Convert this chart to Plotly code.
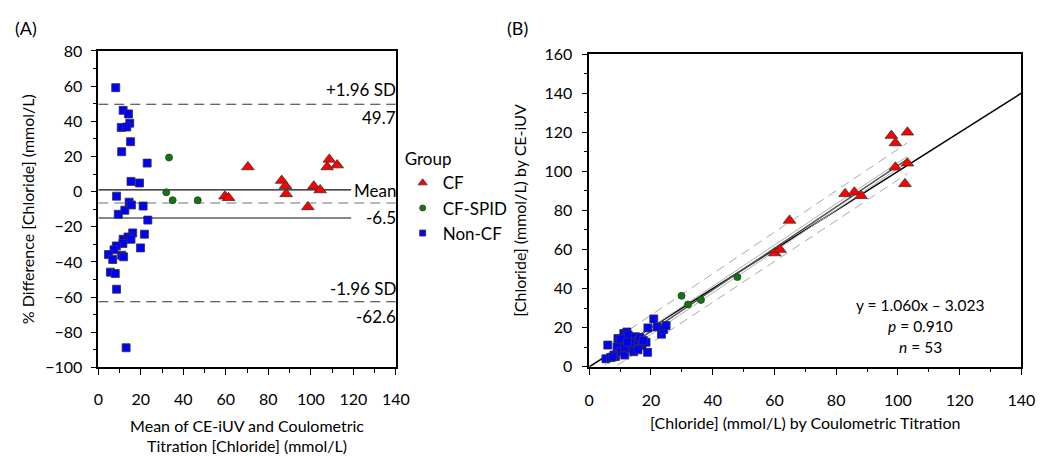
import plotly.graph_objects as go

# ---------------- Panel A: Bland-Altman (mean, % difference) ----------------
ba_cf_mean = [59.6, 61.3, 70.4, 86.3, 88.1, 88.4, 98.6, 101.4, 104.4, 107.7, 108.7, 112.4]
ba_cf_diff = [-2.6, -3.5, 14.0, 6.3, 3.3, -1.3, -8.7, 3.1, 0.9, 14.0, 18.3, 15.1]

ba_spid_mean = [33.3, 32.0, 35.0, 46.8]
ba_spid_diff = [19.4, -0.4, -4.9, -4.9]

ba_non_mean = [8.2, 11.7, 14.2, 14.8, 10.8, 13.4, 15.2, 11.0, 23.0, 15.4, 19.4, 8.6,
               14.5, 9.4, 12.5, 15.6, 21.1, 23.3, 16.2, 21.7, 11.7, 14.0, 15.4, 11.6,
               8.5, 7.4, 4.8, 6.8, 11.0, 11.9, 19.9, 5.7, 8.0, 8.6, 13.1]
ba_non_diff = [59.1, 46.2, 44.2, 38.9, 36.5, 36.7, 28.4, 22.7, 16.2, 5.8, 4.9, -2.6,
               -6.0, -12.9, -10.6, -7.6, -8.2, -16.2, -23.5, -24.2, -27.1, -25.8, -27.1, -29.5,
               -30.9, -33.1, -35.8, -38.6, -36.2, -37.1, -32.0, -45.8, -46.6, -55.5, -88.8]

ba_mean_bias = -6.5
ba_upper_loa = 49.7
ba_lower_loa = -62.6
ba_ci_upper = 1.0
ba_ci_lower = -15.0

# ---------------- Panel B: CE-iUV vs coulometric titration ----------------
cf_ct = [97.9, 103.1, 99.2, 99.2, 103.1, 102.3, 82.9, 85.9, 88.1, 64.9, 60.1, 61.8]
cf_ce = [118.3, 120.0, 114.5, 102.1, 104.2, 93.6, 88.5, 89.3, 87.5, 74.9, 58.2, 60.0]

spid_ct = [29.9, 32.0, 36.2, 48.0]
spid_ce = [36.3, 31.9, 34.2, 45.9]

non_ct = [6.0, 5.4, 6.9, 8.5, 9.3, 9.4, 9.0, 10.1, 11.2, 12.2, 12.6, 11.5, 13.3, 13.1,
          15.0, 14.9, 15.8, 17.1, 18.4, 19.0, 18.9, 20.9, 22.0, 23.4, 24.1, 24.9, 14.4,
          16.4, 11.4, 10.3, 17.5, 12.4, 15.8, 8.0, 7.5]
non_ce = [11.1, 4.1, 4.7, 5.2, 14.5, 12.6, 10.1, 7.7, 17.0, 17.8, 16.2, 6.0, 11.8, 9.3,
          15.4, 12.6, 13.4, 10.9, 12.6, 19.9, 7.4, 24.5, 20.4, 16.7, 19.1, 21.1, 7.7,
          15.0, 10.1, 14.2, 13.4, 12.5, 8.7, 6.0, 5.0]

fit_slope = 1.060
fit_intercept = -3.023
fit_x = [5, 103]
identity_x = [0, 140]
ci_up_y = [4.3, 107.6]
ci_lo_y = [0.7, 104.6]
pi_up_y = [10.5, 114.5]
pi_lo_y = [-3.5, 98.8]

group_names = ["CF", "CF-SPID", "Non-CF"]

FONT = "Lato"
RED, GREEN, BLUE = "#ff0000", "#0a7a0a", "#0000ff"
OUT = "#333333"

fig = go.Figure()

def mk(sym, col, size):
    return dict(symbol=sym, color=col, size=size, line=dict(color=OUT, width=0.8))

# legend-only entries (small symbols as in the reference)
for nm, sym, col, sz in zip(group_names, ["triangle-up", "circle", "square"],
                            [RED, GREEN, BLUE], [8, 6, 6]):
    fig.add_trace(go.Scatter(x=[None], y=[None], mode="markers", name=nm,
                             marker=mk(sym, col, sz), xaxis="x", yaxis="y"))

# Panel A traces
fig.add_trace(go.Scatter(x=ba_cf_mean, y=ba_cf_diff, mode="markers", showlegend=False,
                         marker=mk("triangle-up", RED, 11), xaxis="x", yaxis="y"))
fig.add_trace(go.Scatter(x=ba_spid_mean, y=ba_spid_diff, mode="markers", showlegend=False,
                         marker=mk("circle", GREEN, 7), xaxis="x", yaxis="y"))
fig.add_trace(go.Scatter(x=ba_non_mean, y=ba_non_diff, mode="markers", showlegend=False,
                         marker=mk("square", BLUE, 8), xaxis="x", yaxis="y"))

# horizontal lines panel A
for yv, dash, col, x1 in [(ba_upper_loa, "dash", "#333333", 140),
                          (ba_lower_loa, "dash", "#333333", 140),
                          (ba_mean_bias, "dash", "#a0a0a0", 140),
                          (ba_ci_upper, "solid", "#111111", 119),
                          (ba_ci_lower, "solid", "#111111", 119)]:
    fig.add_shape(type="line", xref="x", yref="y", x0=0, x1=x1, y0=yv, y1=yv,
                  line=dict(color=col, width=1.5 if col == "#a0a0a0" else 1.1,
                            dash="10px,6px" if dash == "dash" else "solid"), layer="below")

# Panel B traces
fig.add_trace(go.Scatter(x=identity_x, y=identity_x, mode="lines", showlegend=False,
                         line=dict(color="black", width=1.5), xaxis="x2", yaxis="y2"))
fig.add_trace(go.Scatter(x=fit_x, y=[fit_slope * v + fit_intercept for v in fit_x], mode="lines",
                         showlegend=False, line=dict(color="#555555", width=1.5), xaxis="x2", yaxis="y2"))
for yy in (ci_up_y, ci_lo_y):
    fig.add_trace(go.Scatter(x=fit_x, y=yy, mode="lines", showlegend=False,
                             line=dict(color="#b0b0b0", width=1), xaxis="x2", yaxis="y2"))
for yy in (pi_up_y, pi_lo_y):
    fig.add_trace(go.Scatter(x=fit_x, y=yy, mode="lines", showlegend=False,
                             line=dict(color="#a8a8a8", width=1, dash="9px,6px"), xaxis="x2", yaxis="y2"))

fig.add_trace(go.Scatter(x=cf_ct, y=cf_ce, mode="markers", showlegend=False,
                         marker=mk("triangle-up", RED, 11), xaxis="x2", yaxis="y2"))
fig.add_trace(go.Scatter(x=spid_ct, y=spid_ce, mode="markers", showlegend=False,
                         marker=mk("circle", GREEN, 7), xaxis="x2", yaxis="y2"))
fig.add_trace(go.Scatter(x=non_ct, y=non_ce, mode="markers", showlegend=False,
                         marker=mk("square", BLUE, 8), xaxis="x2", yaxis="y2"))

axfont = dict(family=FONT, size=16, color="black")
common = dict(showgrid=False, zeroline=False, showline=True, linecolor="black", linewidth=1.5,
              mirror=True, ticks="outside", ticklen=6, tickwidth=1.3, tickcolor="black",
              tickfont=axfont, title_font=axfont,
              minor=dict(ticks="outside", ticklen=3.5, tickwidth=1.2, tickcolor="black", dtick=10))

fig.update_layout(
    width=1052, height=456, margin=dict(l=0, r=0, t=0, b=0),
    paper_bgcolor="white", plot_bgcolor="white",
    font=dict(family=FONT, size=16, color="black"),
    xaxis=dict(domain=[95 / 1052, 398 / 1052], range=[0, 140], dtick=20, anchor="y",
               ticklabelstandoff=11,
               title=dict(text="Mean of CE-iUV and Coulometric<br>Titration [Chloride] (mmol/L)", standoff=13),
               **common),
    yaxis=dict(domain=[1 - 373 / 456, 1 - 42.7 / 456], range=[-100, 80], dtick=20, anchor="x",
               ticklabelstandoff=5,
               title=dict(text="% Difference [Chloride] (mmol/L)", standoff=7), **common),
    xaxis2=dict(domain=[595 / 1052, 1035 / 1052], range=[0, 140], dtick=20, anchor="y2",
                ticklabelstandoff=12,
                title=dict(text="[Chloride] (mmol/L) by Coulometric Titration", standoff=10), **common),
    yaxis2=dict(domain=[1 - 372.3 / 456, 1 - 46 / 456], range=[0, 160], dtick=20, anchor="x2",
                ticklabelstandoff=6,
                title=dict(text="[Chloride] (mmol/L) by CE-iUV", standoff=14), **common),
    legend=dict(x=405 / 1052, y=1 - 139 / 456, xanchor="left", yanchor="top",
                title=dict(text="Group", font=dict(family=FONT, size=17)),
                font=dict(family=FONT, size=17), itemsizing="trace", itemwidth=30,
                bgcolor="rgba(0,0,0,0)", tracegroupgap=0),
)

ann = []
def a(text, x, y, xref, yref, xanchor="center", size=15, xshift=0):
    ann.append(dict(text=text, x=x, y=y, xref=xref, yref=yref, xanchor=xanchor, yanchor="middle",
                    xshift=xshift, showarrow=False, font=dict(family=FONT, size=size, color="black")))

a("+1.96 SD", 140, 57.8, "x", "y", "right", 17, 2)
a("49.7", 140, 42.3, "x", "y", "right", 17, 2)
a("Mean", 140, 0.5, "x", "y", "right", 17, 2)
a("-6.5", 140, -15.0, "x", "y", "right", 17, 2)
a("-1.96 SD", 140, -55.3, "x", "y", "right", 17, 2)
a("-62.6", 140, -70.9, "x", "y", "right", 17, 2)
a("y = 1.060x – 3.023", 932 / 1052, 1 - 308.3 / 456, "paper", "paper", size=15.5)
a("<i>p</i> = 0.910", 932 / 1052, 1 - 330 / 456, "paper", "paper", size=15.5)
a("<i>n</i> = 53", 932 / 1052, 1 - 351.5 / 456, "paper", "paper", size=15.5)
a("(A)", 21 / 1052, 1 - 19 / 456, "paper", "paper", size=18)
a("(B)", 522 / 1052, 1 - 19 / 456, "paper", "paper", size=18)
fig.update_layout(annotations=ann)

fig.write_html("out.html")
